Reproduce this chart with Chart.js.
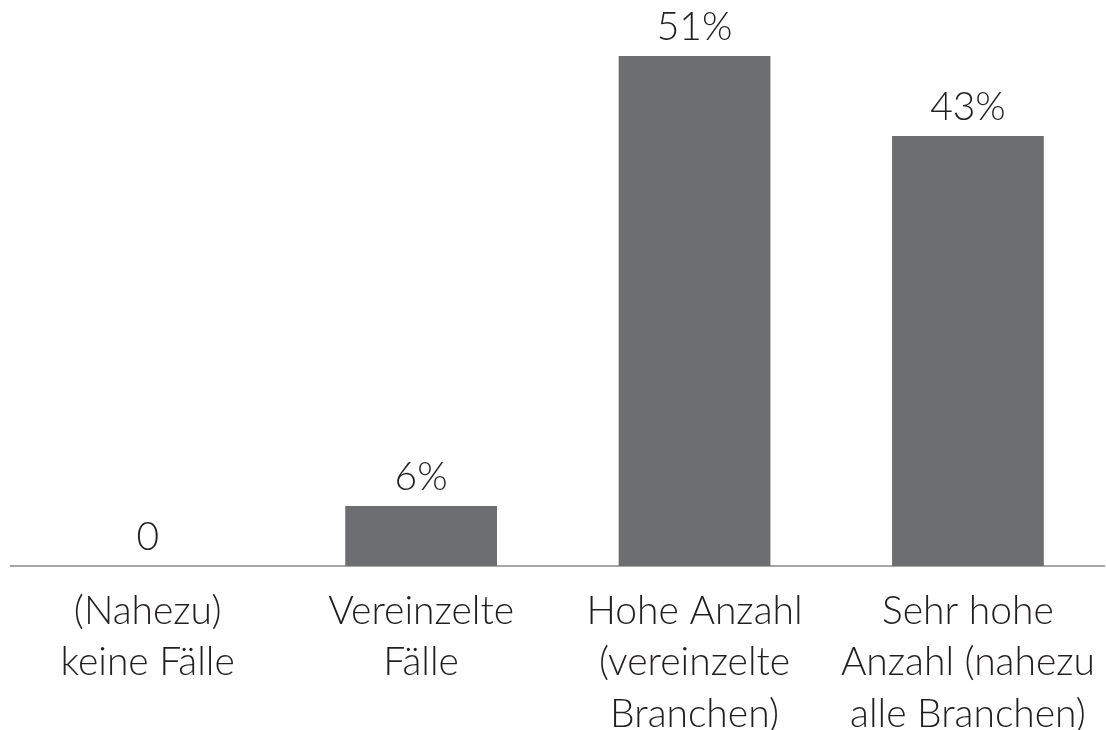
<!DOCTYPE html>
<html>
<head>
<meta charset="utf-8">
<script src="https://cdn.jsdelivr.net/npm/chart.js@4.4.0/dist/chart.umd.min.js"></script>
<style>
  html, body { margin: 0; padding: 0; background: #fff; }
  #wrap { width: 1106px; height: 730px; }
</style>
</head>
<body>
<div id="wrap"><canvas id="chart" width="1106" height="730"></canvas></div>
<script>
// Chart data
const categories = [
    ['(Nahezu)', 'keine Fälle'],
    ['Vereinzelte', 'Fälle'],
    ['Hohe Anzahl', '(vereinzelte', 'Branchen)'],
    ['Sehr hohe', 'Anzahl (nahezu', 'alle Branchen)']
];
const shares = [0, 6, 51, 43];
const valueLabels = ['0', '6%', '51%', '43%'];

const FONT = 'Lato, "Source Sans Pro", "Noto Sans", sans-serif';

// Draw value labels above each bar
const valueLabelPlugin = {
    id: 'valueLabels',
    afterDatasetsDraw(chart) {
        const ctx = chart.ctx;
        const meta = chart.getDatasetMeta(0);
        ctx.save();
        ctx.font = '300 39px ' + FONT;
        ctx.fillStyle = '#231f20';
        ctx.textAlign = 'center';
        ctx.textBaseline = 'middle';
        meta.data.forEach((bar, i) => {
            ctx.fillText(valueLabels[i], bar.x, bar.y - 29);
        });
        ctx.restore();
    }
};

const ctx = document.getElementById('chart').getContext('2d');
new Chart(ctx, {
    type: 'bar',
    data: {
        labels: categories,
        datasets: [{
            data: shares,
            backgroundColor: '#6d6e71',
            borderWidth: 0,
            categoryPercentage: 1,
            barPercentage: 0.555
        }]
    },
    options: {
        responsive: false,
        animation: false,
        layout: { padding: { top: 6, left: 11, right: 0, bottom: 0 } },
        plugins: {
            legend: { display: false },
            tooltip: { enabled: false }
        },
        scales: {
            x: {
                grid: { display: false },
                border: { display: true, color: '#a7a7a7', width: 2 },
                ticks: {
                    color: '#231f20',
                    font: { family: FONT, size: 39, weight: 300, lineHeight: 1.33 },
                    padding: 11,
                    maxRotation: 0,
                    autoSkip: false
                },
                afterFit(scale) { scale.height = 164; }
            },
            y: {
                display: false,
                min: 0,
                max: 56
            }
        }
    },
    plugins: [valueLabelPlugin]
});
</script>
</body>
</html>
